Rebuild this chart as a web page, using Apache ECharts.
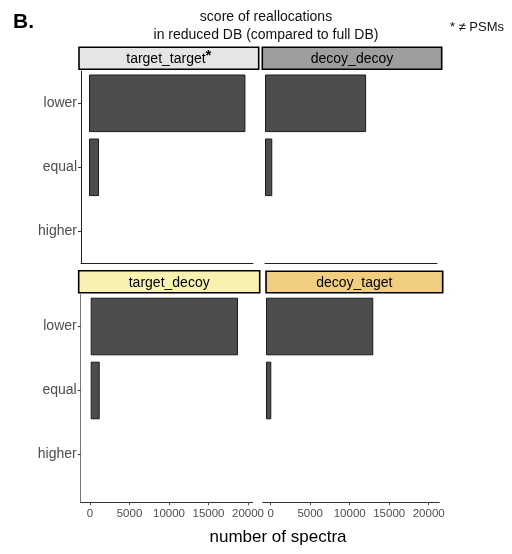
<!DOCTYPE html>
<html>
<head>
<meta charset="utf-8">
<script src="https://cdn.jsdelivr.net/npm/echarts@6/dist/echarts.min.js"></script>
<style>html,body{margin:0;padding:0;background:#fff}#c{width:512px;height:554px}</style>
</head>
<body>
<div id="c"></div>
<script>
const categories = ['lower', 'equal', 'higher'];
const panelNames = ['target_target', 'decoy_decoy', 'target_decoy', 'decoy_taget'];
const targetTarget = [19800, 1270, 0];
const decoyDecoy = [12800, 920, 0];
const targetDecoy = [18650, 1140, 0];
const decoyTaget = [13580, 670, 0];
const xTicks = [0, 5000, 10000, 15000, 20000];
const titleLines = ['score of reallocations', 'in reduced DB (compared to full DB)'];
const xAxisTitle = 'number of spectra';
const panelLetter = 'B.';
const noteText = '* \u2260 PSMs';

const FONT = '"Liberation Sans", Arial, sans-serif';

const chart = echarts.init(document.getElementById('c'), null, {renderer: 'canvas'});

function hiddenX(idx, min, max) {
  return {type: 'value', gridIndex: idx, min: min, max: max, show: false};
}
function lineX(idx, min, max, color) {
  return {type: 'value', gridIndex: idx, min: min, max: max,
    axisLine: {show: true, onZero: false, lineStyle: {color: color, width: 1}},
    axisTick: {show: false}, axisLabel: {show: false}, splitLine: {show: false}};
}
function tickX(idx, min, max) {
  return {type: 'value', gridIndex: idx, min: min, max: max,
    axisLine: {show: true, onZero: false, lineStyle: {color: '#333', width: 1}},
    axisTick: {show: true, customValues: xTicks, length: 3, lineStyle: {color: '#555'}},
    axisLabel: {show: true, customValues: xTicks, color: '#4d4d4d', fontFamily: FONT, fontSize: 11.5, margin: 6,
      hideOverlap: false, formatter: function (v) { return String(v); }},
    splitLine: {show: false}};
}
function catY(idx, opts) {
  return {type: 'category', gridIndex: idx, data: categories, inverse: true,
    axisLine: {show: opts.line, onZero: false, lineStyle: {color: opts.lineColor || '#333', width: 1}},
    axisTick: {show: opts.labels, alignWithLabel: true, length: 3, lineStyle: {color: '#333'}},
    axisLabel: {show: opts.labels, color: '#4d4d4d', fontFamily: FONT, fontSize: 14, margin: 4},
    splitLine: {show: false}};
}

function barSeries(xi, yi, data) {
  return {type: 'bar', xAxisIndex: xi, yAxisIndex: yi,
    data: data.map(function (v) { return v === 0 ? null : v; }),
    barCategoryGap: '10%', silent: true,
    itemStyle: {color: '#4d4d4d', borderColor: '#1a1a1a', borderWidth: 1}};
}

function strip(x, y, w, h, fill, text) {
  return [
    {type: 'rect', shape: {x: x, y: y, width: w, height: h}, z: 10,
      style: {fill: fill, stroke: '#000', lineWidth: 1.6}},
    {type: 'text', x: x + w / 2, y: y + h / 2 + 1, z: 11,
      style: Object.assign({align: 'center', verticalAlign: 'middle', fill: '#000',
        font: '14px ' + FONT}, text)}
  ];
}

const option = {
  animation: false,
  backgroundColor: '#fff',
  grid: [
    {left: 81, top: 71.3, width: 172, height: 192},
    {left: 265, top: 71.3, width: 172, height: 192},
    {left: 80.7, top: 294.5, width: 172, height: 207.8},
    {left: 80.7, top: 294.5, width: 172, height: 192},
    {left: 262.7, top: 294.5, width: 176.6, height: 207.8},
    {left: 262.7, top: 294.5, width: 176.6, height: 192}
  ],
  xAxis: [
    lineX(0, -1013, 20759, '#222'),
    lineX(1, 0, 21772, '#222'),
    tickX(2, -1177, 20595),
    hiddenX(3, -1266, 20506),
    tickX(4, -1013, 21342),
    hiddenX(5, -418, 21937)
  ],
  yAxis: [
    catY(0, {line: true, labels: true, lineColor: '#222'}),
    catY(1, {line: false, labels: false}),
    {type: 'value', gridIndex: 2, axisLine: {show: true, onZero: false, lineStyle: {color: '#777', width: 1}},
      axisTick: {show: false}, axisLabel: {show: false}, splitLine: {show: false}},
    catY(3, {line: false, labels: true}),
    {type: 'value', gridIndex: 4, show: false},
    catY(5, {line: false, labels: false})
  ],
  series: [
    barSeries(0, 0, targetTarget),
    barSeries(1, 1, decoyDecoy),
    barSeries(3, 3, targetDecoy),
    barSeries(5, 5, decoyTaget)
  ],
  graphic: [
    {type: 'text', x: 13, y: 22, style: {text: panelLetter, font: 'bold 21px ' + FONT, fill: '#000', verticalAlign: 'middle'}},
    {type: 'text', x: 266, y: 17.5, style: {text: titleLines[0], font: '14px ' + FONT, fill: '#111', align: 'center', verticalAlign: 'middle'}},
    {type: 'text', x: 266, y: 35.5, style: {text: titleLines[1], font: '14px ' + FONT, fill: '#111', align: 'center', verticalAlign: 'middle'}},
    {type: 'text', x: 504, y: 27, style: {text: noteText, font: '13px ' + FONT, fill: '#111', align: 'right', verticalAlign: 'middle'}},
    {type: 'text', x: 278, y: 537, style: {text: xAxisTitle, font: '17px ' + FONT, fill: '#000', align: 'center', verticalAlign: 'middle'}}
  ]
    .concat(strip(79, 47.3, 179.7, 22, '#e5e5e5', {
      text: '{a|' + panelNames[0] + '}{s|*}',
      rich: {a: {font: '14px ' + FONT, fill: '#000'}, s: {font: 'bold 15px ' + FONT, fill: '#000', verticalAlign: 'top', padding: [0, 0, 6, 0]}}
    }))
    .concat(strip(262.3, 47.3, 179.4, 22, '#9e9e9e', {text: panelNames[1]}))
    .concat(strip(78.7, 270.7, 181, 22, '#f7f2b0', {text: panelNames[2]}))
    .concat(strip(266, 271.3, 176.7, 21.4, '#f1ce7f', {text: panelNames[3]}))
};
chart.setOption(option);
</script>
</body>
</html>
